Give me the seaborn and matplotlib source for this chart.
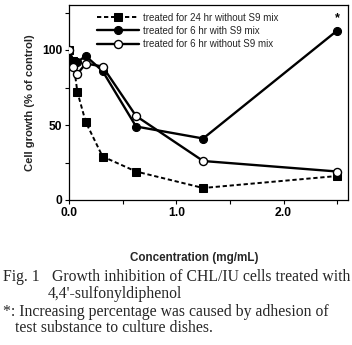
import matplotlib
matplotlib.use("Agg")
import matplotlib.pyplot as plt
import seaborn as sns

sns.set_theme(style="ticks")
plt.rcParams["font.family"] = ["Liberation Sans", "DejaVu Sans"]

# Concentrations (mg/mL) and cell growth (% of control)
conc = [0, 0.039, 0.078, 0.156, 0.3125, 0.625, 1.25, 2.5]
growth_24h_no_s9 = [100, 93, 72, 52, 29, 19, 8, 16]
growth_6h_s9 = [100, 93, 92, 96, 86, 49, 41, 113]
growth_6h_no_s9 = [100, 89, 84, 91, 89, 56, 26, 19]

labels = ["treated for 24 hr without S9 mix",
          "treated for 6 hr with S9 mix",
          "treated for 6 hr without S9 mix"]

x_ticks = [0.0, 0.5, 1.0, 1.5, 2.0, 2.5]
x_tick_labels = ["0.0", "", "1.0", "", "2.0", ""]
y_ticks = [0, 25, 50, 75, 100, 125]
y_tick_labels = ["0", "", "50", "", "100", ""]

fig = plt.figure(figsize=(3.52, 3.45), dpi=100)
ax = fig.add_axes([69 / 352, 1 - 200 / 345, (348 - 69) / 352, (200 - 5) / 345])

sns.lineplot(x=conc, y=growth_24h_no_s9, ax=ax, color="black", linestyle=(0, (2.2, 1.4)),
             linewidth=1.4, marker="s", markersize=5.4, markerfacecolor="black",
             markeredgecolor="black", label=labels[0], zorder=2)
sns.lineplot(x=conc, y=growth_6h_s9, ax=ax, color="black", linewidth=1.7,
             marker="o", markersize=5.8, markerfacecolor="black",
             markeredgecolor="black", label=labels[1], zorder=3)
sns.lineplot(x=conc, y=growth_6h_no_s9, ax=ax, color="black", linewidth=1.7,
             marker="o", markersize=5.8, markerfacecolor="white",
             markeredgecolor="black", markeredgewidth=1.0, label=labels[2], zorder=4)

ax.text(2.5, 117, "*", ha="center", va="bottom", fontsize=9, fontweight="bold",
        color="black")

ax.set_xlim(0, 2.6)
ax.set_ylim(0, 130)
ax.set_xticks(x_ticks)
ax.set_xticklabels(x_tick_labels)
ax.set_yticks(y_ticks)
ax.set_yticklabels(y_tick_labels)
ax.tick_params(direction="out", length=3, width=0.8, colors="black",
               labelsize=8.7, pad=2)
for lbl in ax.get_xticklabels() + ax.get_yticklabels():
    lbl.set_fontweight("bold")
for sp in ax.spines.values():
    sp.set_visible(True)
    sp.set_color("black")
    sp.set_linewidth(0.9)

ax.set_ylabel("Cell growth (% of control)", fontsize=8.1, fontweight="bold", labelpad=5)
ax.set_xlabel("")
fig.text(194 / 352, 1 - 258 / 345, "Concentration (mg/mL)", ha="center", va="center",
         fontsize=8.4, fontweight="bold")

leg = ax.legend(loc="upper left", bbox_to_anchor=(0.075, 0.995), frameon=False,
                fontsize=7.0, handlelength=4.3, handletextpad=0.45,
                labelspacing=0.32, borderpad=0.2)

serif = ["Liberation Serif", "DejaVu Serif"]
cap_size = 11.3
fig.text(3 / 352, 1 - 277 / 345, "Fig. 1", ha="left", va="center",
         fontsize=cap_size, family=serif)
fig.text(52 / 352, 1 - 277 / 345, "Growth inhibition of CHL/IU cells treated with",
         ha="left", va="center", fontsize=cap_size, family=serif)
fig.text(48 / 352, 1 - 294 / 345, "4,4'-sulfonyldiphenol", ha="left", va="center",
         fontsize=cap_size, family=serif)
fig.text(3 / 352, 1 - 312 / 345, "*: Increasing percentage was caused by adhesion of",
         ha="left", va="center", fontsize=cap_size, family=serif)
fig.text(15 / 352, 1 - 328 / 345, "test substance to culture dishes.", ha="left",
         va="center", fontsize=cap_size, family=serif)

fig.savefig("out.png", dpi=100, facecolor="white")
